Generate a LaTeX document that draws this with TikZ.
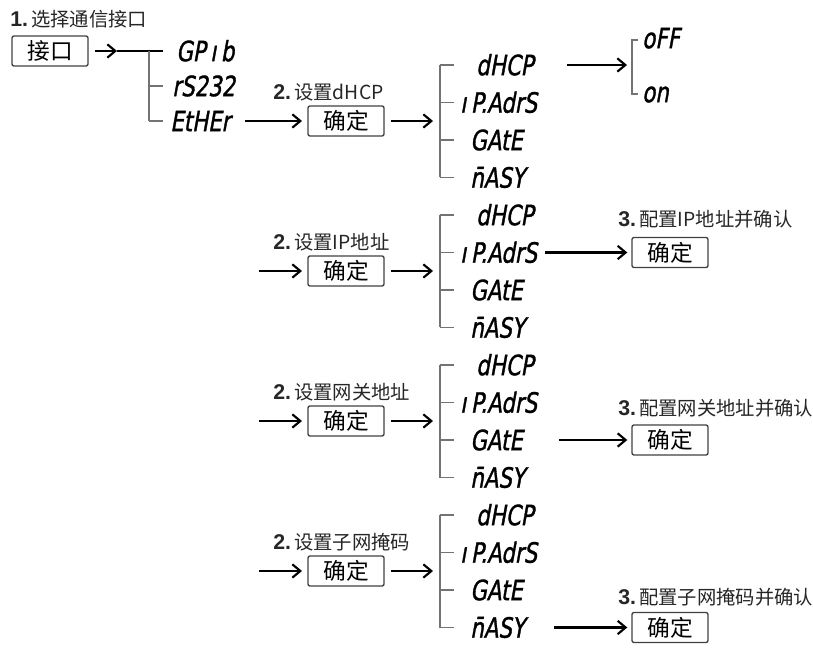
\documentclass[tikz,border=0pt]{standalone}
\usepackage{fontspec}
\setmainfont{Liberation Sans}
\newfontfamily\cjk{Noto Sans CJK SC}
\newfontfamily\numb{Liberation Sans}
\newfontfamily\seg[FakeStretch=0.76,FakeSlant=0.18,FakeBold=1.2]{DejaVu Sans}
\usepackage{tikz}
\usetikzlibrary{arrows.meta}

\tikzset{
	okbox/.style={draw=black!75, rounded corners=1.5pt, line width=1pt,
		minimum width=57pt, minimum height=22.5pt, inner sep=0pt,
		font=\cjk\fontsize{17}{17}\selectfont},
	lbl/.style={anchor=west, inner sep=0pt, text=black!85,
		font=\cjk\fontsize{14.5}{14.5}\selectfont},
	segtxt/.style={anchor=west, inner sep=0pt, text height=15.3pt, text depth=0pt,
		font=\seg\fontsize{21}{21}\selectfont},
	arr/.style={-{Straight Barb[length=6pt,width=10pt]}, line width=1.6pt},
	brk/.style={draw=black!55, line width=1pt}
}

\begin{document}
\begin{tikzpicture}[x=0.75pt, y=-0.75pt]
	\useasboundingbox (0,0) rectangle (813,648);

	%sucelje
	\node[lbl] (t1) at (10,19) {{\numb\bfseries\fontsize{16}{16}\selectfont 1.}\,选择通信接口};
	\node[okbox] (jk) at (50,51) {接口};
	\coordinate (jkt) at (117,51);
	\coordinate (jkl) at (163,51);
	\draw[arr, shorten <=5pt] (jk) -- (jkt);
	\draw[line width=1.6pt] (jkt) -- (jkl);

	\draw[brk] (149,51) -- (149,121) (149,86) -- (163,86) (149,121) -- (163,121);

	\node[segtxt] (gpib) at (176,51) {GP\,ı\,b};
	\node[segtxt] (rs) at (172,86) {rS232};
	\node[segtxt] (eth) at (170,121) {EtHEr};

	%dhcp
	\node[lbl] (l2a) at (273,92) {{\numb\bfseries\fontsize{16}{16}\selectfont 2.}\,设置dHCP};
	\node[okbox] (ok2a) at (346,121) {确定};
	\coordinate (b1) at (433,121);
	\draw[arr, shorten <=11pt, shorten >=4pt] (eth) -- (ok2a);
	\draw[arr, shorten <=5pt] (ok2a) -- (b1);

	\draw[brk] (440,65) -- (440,177.5) (440,65) -- (454,65) (440,102.5) -- (454,102.5)
	(440,140) -- (454,140) (440,177.5) -- (454,177.5);

	\node[segtxt] (dh1) at (476,65) {dHCP};
	\node[segtxt] (ip1) at (460,102.5) {ı\,P.AdrS};
	\node[segtxt] (ga1) at (470,140) {GAtE};
	\node[segtxt] (ms1) at (470,177.5) {\=nASY};

	\coordinate (b2) at (627,65);
	\draw[arr, shorten <=25pt] (dh1) -- (b2);
	\draw[brk] (638,40) -- (632,40) -- (632,94) -- (638,94);
	\node[segtxt] (off) at (642,38) {oFF};
	\node[segtxt] (on) at (642,92) {on};

	%ip
	\node[lbl] (l2b) at (273,242) {{\numb\bfseries\fontsize{16}{16}\selectfont 2.}\,设置IP地址};
	\node[okbox] (ok2b) at (346,271) {确定};
	\coordinate (in2) at (259,271);
	\coordinate (b3) at (433,271);
	\draw[arr, shorten >=4pt] (in2) -- (ok2b);
	\draw[arr, shorten <=5pt] (ok2b) -- (b3);

	\draw[brk] (440,215) -- (440,327.5) (440,215) -- (454,215) (440,252.5) -- (454,252.5)
	(440,290) -- (454,290) (440,327.5) -- (454,327.5);

	\node[segtxt] (dh2) at (476,215) {dHCP};
	\node[segtxt] (ip2) at (460,252.5) {ı\,P.AdrS};
	\node[segtxt] (ga2) at (470,290) {GAtE};
	\node[segtxt] (ms2) at (470,327.5) {\=nASY};

	\node[lbl] (l3b) at (618,219) {{\numb\bfseries\fontsize{16}{16}\selectfont 3.}\,配置IP地址并确认};
	\node[okbox] (ok3b) at (670,252.5) {确定};
	\draw[arr, shorten <=6pt, shorten >=3pt] (ip2) -- (ok3b);

	%gateway
	\node[lbl] (l2c) at (273,392) {{\numb\bfseries\fontsize{16}{16}\selectfont 2.}\,设置网关地址};
	\node[okbox] (ok2c) at (346,421) {确定};
	\coordinate (in3) at (259,421);
	\coordinate (b4) at (433,421);
	\draw[arr, shorten >=4pt] (in3) -- (ok2c);
	\draw[arr, shorten <=5pt] (ok2c) -- (b4);

	\draw[brk] (440,365) -- (440,477.5) (440,365) -- (454,365) (440,402.5) -- (454,402.5)
	(440,440) -- (454,440) (440,477.5) -- (454,477.5);

	\node[segtxt] (dh3) at (476,365) {dHCP};
	\node[segtxt] (ip3) at (460,402.5) {ı\,P.AdrS};
	\node[segtxt] (ga3) at (470,440) {GAtE};
	\node[segtxt] (ms3) at (470,477.5) {\=nASY};

	\node[lbl] (l3c) at (618,408) {{\numb\bfseries\fontsize{16}{16}\selectfont 3.}\,配置网关地址并确认};
	\node[okbox] (ok3c) at (670,440) {确定};
	\draw[arr, shorten <=27pt, shorten >=3pt] (ga3) -- (ok3c);

	%mask
	\node[lbl] (l2d) at (273,542) {{\numb\bfseries\fontsize{16}{16}\selectfont 2.}\,设置子网掩码};
	\node[okbox] (ok2d) at (346,571) {确定};
	\coordinate (in4) at (259,571);
	\coordinate (b5) at (433,571);
	\draw[arr, shorten >=4pt] (in4) -- (ok2d);
	\draw[arr, shorten <=5pt] (ok2d) -- (b5);

	\draw[brk] (440,515) -- (440,627.5) (440,515) -- (454,515) (440,552.5) -- (454,552.5)
	(440,590) -- (454,590) (440,627.5) -- (454,627.5);

	\node[segtxt] (dh4) at (476,515) {dHCP};
	\node[segtxt] (ip4) at (460,552.5) {ı\,P.AdrS};
	\node[segtxt] (ga4) at (470,590) {GAtE};
	\node[segtxt] (ms4) at (470,627.5) {\=nASY};

	\node[lbl] (l3d) at (618,597) {{\numb\bfseries\fontsize{16}{16}\selectfont 3.}\,配置子网掩码并确认};
	\node[okbox] (ok3d) at (670,627.5) {确定};
	\draw[arr, shorten <=22pt, shorten >=3pt] (ms4) -- (ok3d);

\end{tikzpicture}
\end{document}
